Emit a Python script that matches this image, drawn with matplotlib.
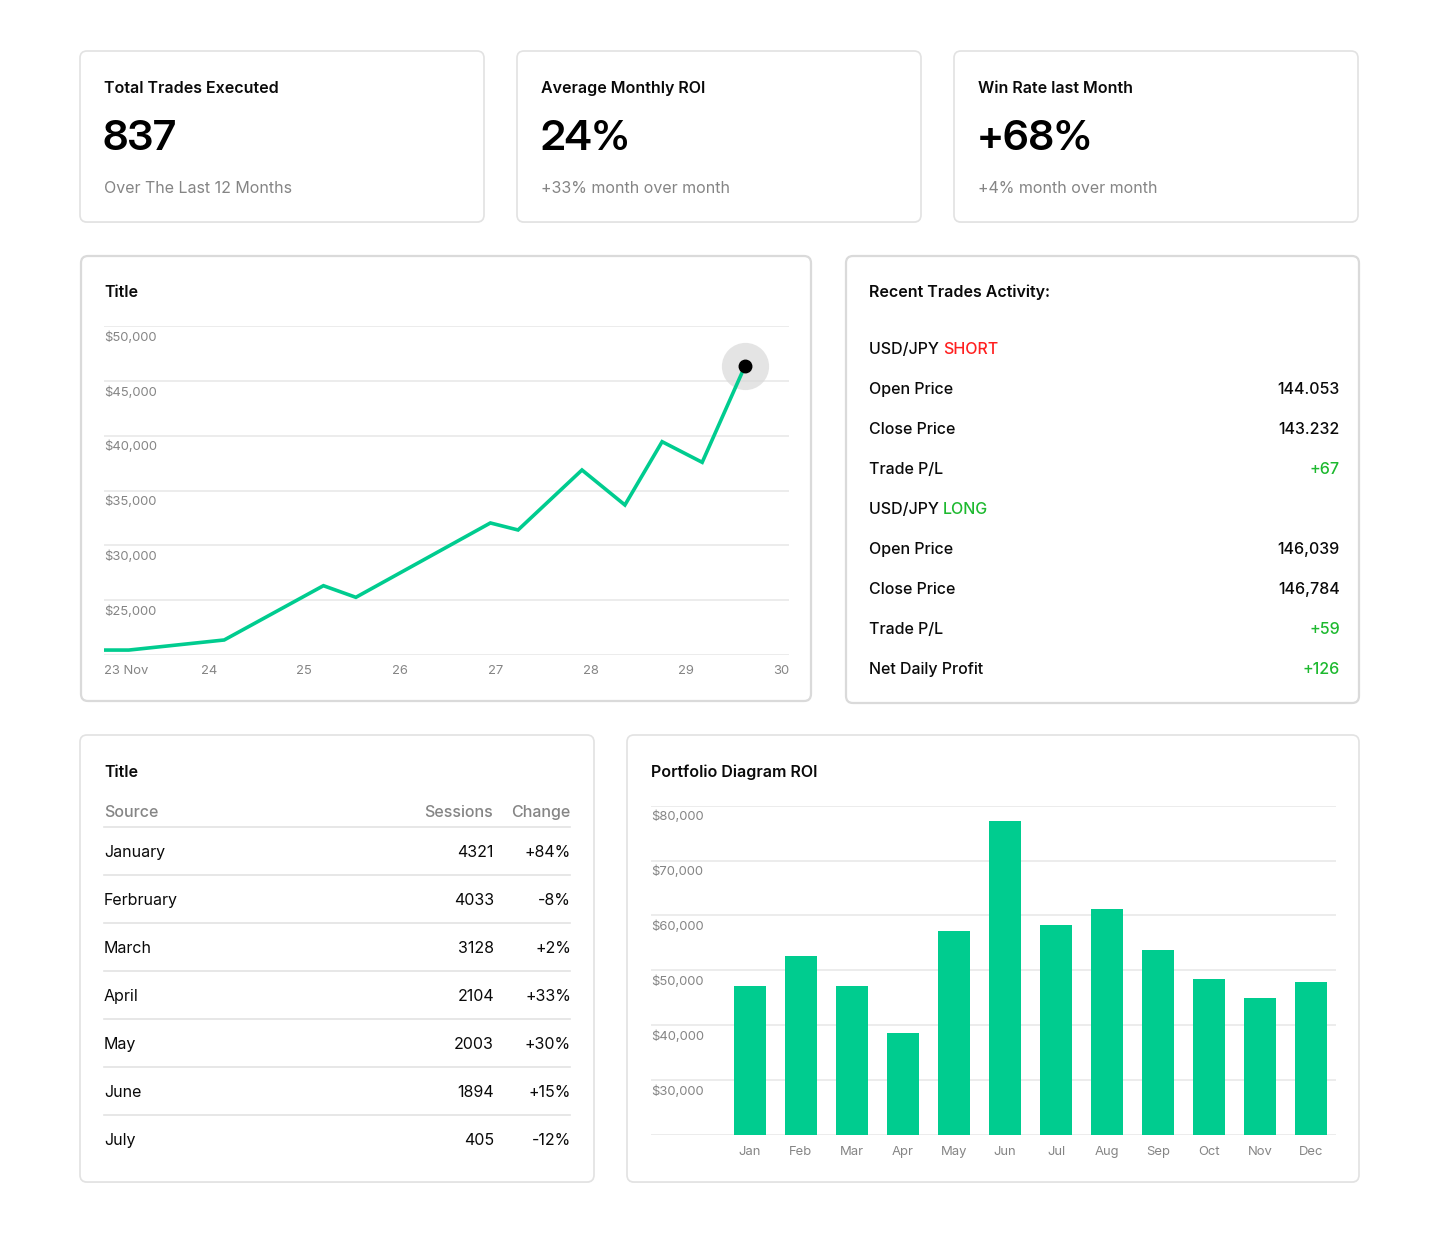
import numpy as np
import matplotlib
matplotlib.use('Agg')
import matplotlib.pyplot as plt
from matplotlib.patches import FancyBboxPatch
from matplotlib.transforms import blended_transform_factory
from matplotlib import font_manager as fm

plt.rcParams['font.family'] = ['Inter', 'DejaVu Sans']

# kafelki na górze
kpi_titles = ["Total Trades Executed", "Average Monthly ROI", "Win Rate last Month"]
kpi_values = ["837", "24%", "+68%"]
kpi_notes = ["Over The Last 12 Months", "+33% month over month", "+4% month over month"]

# wykres liniowy (dni listopada, wartość portfela)
line_days = [22.90, 23.16, 24.16, 25.20, 25.54, 26.95, 27.24, 27.91, 28.36, 28.75, 29.17, 29.62]
line_values = [20450, 20450, 21370, 26320, 25260, 32040, 31400, 36870, 33680, 39450, 37570, 46380]
line_ticks = [22.9, 24, 25, 26, 27, 28, 29, 30]
line_tick_labels = ["23 Nov", "24", "25", "26", "27", "28", "29", "30"]
line_yticks = [25000, 30000, 35000, 40000, 45000, 50000]

# ostatnie transakcje
trade_rows = [("Open Price", "144.053"), ("Close Price", "143.232"), ("Trade P/L", "+67"),
              None,
              ("Open Price", "146,039"), ("Close Price", "146,784"), ("Trade P/L", "+59"),
              ("Net Daily Profit", "+126")]

# tabela
table_sources = ["January", "Ferbruary", "March", "April", "May", "June", "July"]
table_sessions = [4321, 4033, 3128, 2104, 2003, 1894, 405]
table_changes = ["+84%", "-8%", "+2%", "+33%", "+30%", "+15%", "-12%"]

# wykres słupkowy
months = ["Jan", "Feb", "Mar", "Apr", "May", "Jun", "Jul", "Aug", "Sep", "Oct", "Nov", "Dec"]
roi_values = [47100, 52600, 47100, 38500, 57100, 77200, 58200, 61200, 53700, 48400, 44900, 47800]
bar_yticks = [30000, 40000, 50000, 60000, 70000, 80000]

W, H = 1440, 1234
GREEN = '#00cc8f'
TXT_GREEN = '#1db92f'
RED = '#ff1f1f'
GRAY = '#858585'
DARK = '#0a0a0a'
GRID = '#ebebeb'
PT = 72 / 100  # px -> pt


def font_file(name):
    # szukamy konkretnego pliku, żeby nie trafić na wariant zmienny
    for f in fm.fontManager.ttflist:
        if f.fname.endswith(name):
            return f.fname
    return None


def fp(px, name=None, family='Inter', weight=400):
    path = font_file(name) if name else None
    if path:
        return fm.FontProperties(fname=path, size=px * PT)
    return fm.FontProperties(family=family, weight=weight, size=px * PT)


F_TITLE = fp(16, 'Inter-SemiBold.otf', weight=600)
F_BIG = fp(42, 'InterDisplay-SemiBold.otf', family='Inter Display', weight=600)
F_NOTE = fp(16, 'Inter-Regular.otf')
F_MED = fp(16, 'Inter-Medium.otf', weight=500)
F_REG = fp(16, 'Inter-Regular.otf')
F_TICK = fp(13, 'Inter-Regular.otf')

fig = plt.figure(figsize=(W / 100, H / 100), dpi=100)
fig.patch.set_facecolor('white')
bg = fig.add_axes([0, 0, 1, 1])
bg.set_xlim(0, W)
bg.set_ylim(H, 0)
bg.axis('off')


def card(x0, y0, x1, y1, ec='#e2e2e2', lw=1.2):
    # delikatny cień + ramka
    bg.add_patch(FancyBboxPatch((x0, y0 + 1), x1 - x0, y1 - y0,
                                boxstyle="round,pad=0,rounding_size=7",
                                fc='#f3f3f3', ec='none', zorder=1))
    bg.add_patch(FancyBboxPatch((x0, y0), x1 - x0, y1 - y0,
                                boxstyle="round,pad=0,rounding_size=7",
                                fc='white', ec=ec, lw=lw, zorder=2))


def px_axes(x0, y0, x1, y1):
    return fig.add_axes([x0 / W, 1 - y1 / H, (x1 - x0) / W, (y1 - y0) / H])


def label(x, y, s, font, color=DARK, ha='left'):
    return bg.text(x, y + 1.5, s, fontproperties=font, va='center', ha=ha,
                   color=color, zorder=3)


# --- kafelki KPI ---
kpi_x = [80, 517, 954]
for i in range(3):
    x = kpi_x[i]
    card(x, 51, x + 404, 222)
    label(x + 24, 87, kpi_titles[i], F_TITLE)
    label(x + 23, 138, kpi_values[i], F_BIG, color='#000000')
    label(x + 24, 187, kpi_notes[i], F_NOTE, color=GRAY)

# --- wykres liniowy ---
card(81, 256, 811, 701, ec='#dadada', lw=1.6)
label(104, 291, "Title", F_TITLE)

ax = px_axes(104, 326, 789, 655)
ax.set_zorder(5)
ax.patch.set_alpha(0)
ax.set_xlim(22.9, 30.08)
ax.set_ylim(20000, 50000)
for v in [20000] + line_yticks:
    ax.axhline(v, color=GRID, lw=1.3, zorder=1)
ax.plot(line_days, line_values, color=GREEN, lw=2.6, solid_joinstyle='miter', zorder=3)
ax.plot(line_days[-1], line_values[-1], 'o', ms=34, color='#d9d9d9', alpha=0.7,
        mec='none', zorder=2)
ax.plot(line_days[-1], line_values[-1], 'o', ms=9, color='black', zorder=4)
tr = blended_transform_factory(ax.transAxes, ax.transData)
for v in line_yticks:
    ax.text(0, v - 1050, f"${v:,}", transform=tr, fontproperties=F_TICK, color=GRAY,
            ha='left', va='center')
ax.set_yticks([])
ax.set_xticks(line_ticks)
ax.set_xticklabels(line_tick_labels, fontproperties=F_TICK, color=GRAY)
ax.get_xticklabels()[0].set_ha('left')
ax.tick_params(axis='x', length=0, pad=7)
for s in ax.spines.values():
    s.set_visible(False)

# --- ostatnie transakcje ---
card(846, 256, 1359, 703, ec='#dadada', lw=1.6)
label(869, 291, "Recent Trades Activity:", F_TITLE)


def pair_header(y, side, col):
    t = label(869, y, "USD/JPY ", F_MED)
    fig.canvas.draw()
    bb = t.get_window_extent()
    label(869 + bb.width, y, side, F_MED, color=col)


pair_header(348, "SHORT", RED)
row_y = 388
for r in trade_rows:
    if r is None:
        pair_header(row_y, "LONG", TXT_GREEN)
    else:
        name, val = r
        col = TXT_GREEN if val.startswith('+') else DARK
        label(869, row_y, name, F_MED)
        label(1340, row_y, val, F_MED, color=col, ha='right')
    row_y += 40

# --- tabela ---
card(80, 735, 594, 1182)
label(104, 771, "Title", F_TITLE)
label(104, 811, "Source", F_MED, color=GRAY)
label(493, 811, "Sessions", F_MED, color=GRAY, ha='right')
label(570, 811, "Change", F_MED, color=GRAY, ha='right')
bg.plot([104, 570], [827, 827], color='#e3e3e3', lw=1.2, zorder=3)
for i in range(len(table_sources)):
    y = 851 + 48 * i
    label(104, y, table_sources[i], F_REG)
    label(494, y, str(table_sessions[i]), F_REG, ha='right')
    label(571, y, table_changes[i], F_REG, ha='right')
    if i < len(table_sources) - 1:
        bg.plot([104, 570], [y + 24, y + 24], color='#e3e3e3', lw=1.2, zorder=3)

# --- wykres słupkowy ---
card(627, 735, 1359, 1182)
label(651, 771, "Portfolio Diagram ROI", F_TITLE)

bx = px_axes(651, 805.7, 1336, 1134.7)
bx.set_zorder(5)
bx.patch.set_alpha(0)
bx.set_xlim(-1.94, 11.49)
bx.set_ylim(20000, 80000)
for v in [20000] + bar_yticks:
    bx.axhline(v, color=GRID, lw=1.3, zorder=1)
xs = np.arange(len(months))
bx.bar(xs, np.array(roi_values) - 20000, bottom=20000, width=0.63, color=GREEN, zorder=2)
tr2 = blended_transform_factory(bx.transAxes, bx.transData)
for v in bar_yticks:
    bx.text(0, v - 2100, f"${v:,}", transform=tr2, fontproperties=F_TICK, color=GRAY,
            ha='left', va='center')
bx.set_yticks([])
bx.set_xticks(xs)
bx.set_xticklabels(months, fontproperties=F_TICK, color=GRAY)
bx.tick_params(axis='x', length=0, pad=8)
for s in bx.spines.values():
    s.set_visible(False)

fig.savefig('out.png', dpi=100, facecolor='white')
